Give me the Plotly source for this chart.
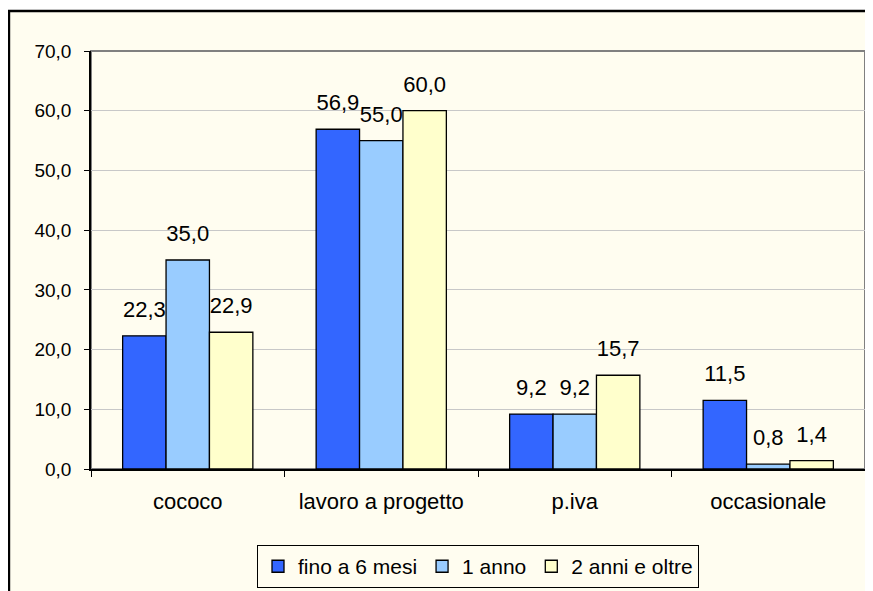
import plotly.graph_objects as go

categorie = ["cococo", "lavoro a progetto", "p.iva", "occasionale"]
fino_6_mesi = [22.3, 56.9, 9.2, 11.5]
un_anno = [35.0, 55.0, 9.2, 0.8]
due_anni_oltre = [22.9, 60.0, 15.7, 1.4]

serie = [
    ("fino a 6 mesi", fino_6_mesi, "#3366FF"),
    ("1 anno", un_anno, "#99CCFF"),
    ("2 anni e oltre", due_anni_oltre, "#FFFFCC"),
]

CREAM = "#FFFDF0"
FAMILY = "Liberation Sans, Arial, sans-serif"
GAP = 0.327

fig = go.Figure()
for i, (nome, valori, colore) in enumerate(serie):
    fig.add_trace(go.Bar(
        x=categorie, y=valori, name=nome, offsetgroup=str(i),
        marker=dict(color=colore, line=dict(color="black", width=1.3)),
    ))
# value labels, grouped like the bars, with an invisible marker to lift the text
for i, (nome, valori, colore) in enumerate(serie):
    fig.add_trace(go.Scatter(
        x=categorie, y=valori, offsetgroup=str(i), mode="markers+text",
        text=[f"{v:.1f}".replace(".", ",") for v in valori],
        textposition="top center",
        textfont=dict(family=FAMILY, size=22, color="black"),
        marker=dict(size=20, color="rgba(0,0,0,0)"),
        showlegend=False, hoverinfo="skip", cliponaxis=False,
    ))

# outer frame (open at right/bottom like the original)
fig.add_shape(type="rect", xref="paper", yref="paper",
              x0=-0.106, x1=1.3, y0=-0.6, y1=1.0957,
              line=dict(color="black", width=2.5), fillcolor=CREAM, layer="below")
# plot-area border
fig.add_shape(type="rect", xref="paper", yref="paper",
              x0=0, x1=1, y0=0, y1=1,
              line=dict(color="#808080", width=2), layer="below")

fig.update_layout(
    width=865, height=583,
    margin=dict(l=83, r=8, t=43, b=122, autoexpand=False),
    paper_bgcolor="white", plot_bgcolor=CREAM,
    font=dict(family=FAMILY, size=21, color="black"), separators=",.",
    barmode="group", bargap=GAP, bargroupgap=0,
    scattermode="group", scattergap=GAP,
    showlegend=True,
    legend=dict(orientation="h", x=0.5, xanchor="center", y=-0.182, yanchor="top",
                bgcolor=CREAM, bordercolor="black", borderwidth=1,
                font=dict(family=FAMILY, size=21, color="black"),
                itemwidth=30, traceorder="normal"),
)
fig.update_xaxes(showline=True, linecolor="black", linewidth=1.5,
                 ticks="outside", ticklen=6, tickcolor="black", tickson="boundaries",
                 ticklabelstandoff=12, showgrid=False,
                 tickfont=dict(family=FAMILY, size=22, color="black"))
fig.update_yaxes(range=[0, 70], dtick=10, tickformat=".1f",
                 showline=True, linecolor="black", linewidth=1.5,
                 ticks="outside", ticklen=5, tickcolor="black",
                 showgrid=True, gridcolor="#C8C8C8", gridwidth=1,
                 zeroline=False, ticklabelstandoff=9,
                 tickfont=dict(family=FAMILY, size=19, color="black"))

fig.write_html("out.html")
